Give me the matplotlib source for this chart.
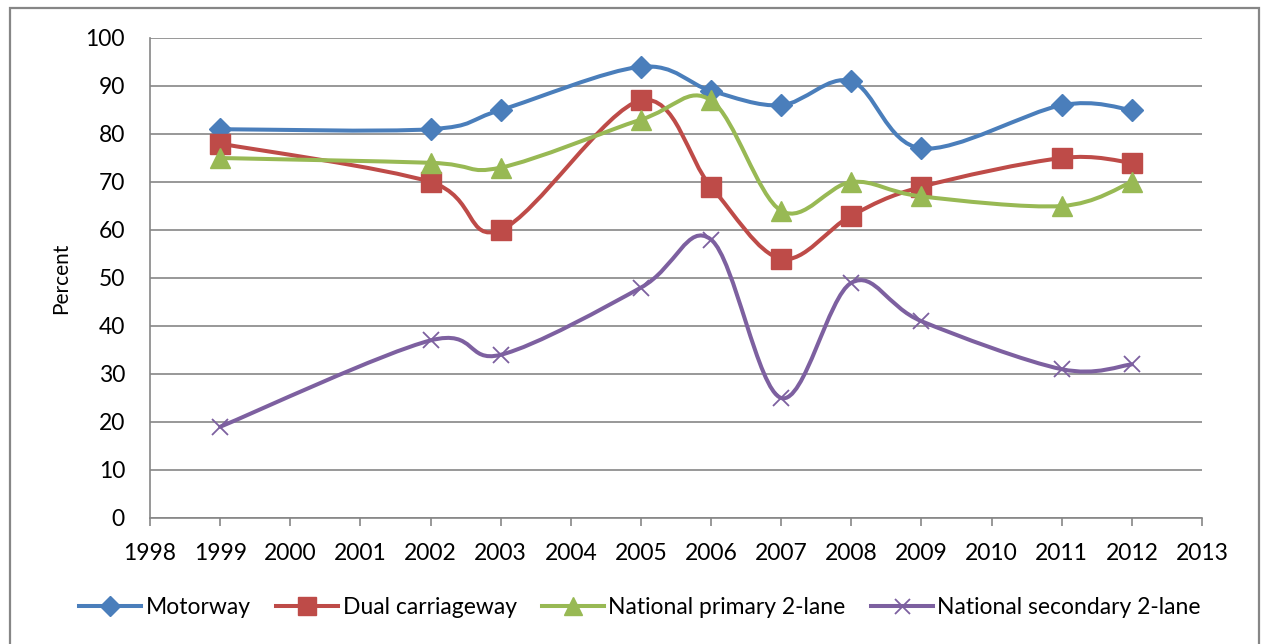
import matplotlib
matplotlib.use("Agg")
import matplotlib.pyplot as plt
from matplotlib.path import Path
from matplotlib.patches import PathPatch, Rectangle
from matplotlib.lines import Line2D

plt.rcParams['font.family'] = ['Lato', 'DejaVu Sans']

years = [1999, 2002, 2003, 2005, 2006, 2007, 2008, 2009, 2011, 2012]
motorway = [81, 81, 85, 94, 89, 86, 91, 77, 86, 85]
dual = [78, 70, 60, 87, 69, 54, 63, 69, 75, 74]
primary = [75, 74, 73, 83, 87, 64, 70, 67, 65, 70]
secondary = [19, 37, 34, 48, 58, 25, 49, 41, 31, 32]

names = ["Motorway", "Dual carriageway", "National primary 2-lane", "National secondary 2-lane"]
colors = ["#4A7EBB", "#BE4B48", "#98B954", "#7D60A0"]
markers = ["D", "s", "^", "x"]
msizes = [11, 14, 14, 12]
x_ticks = list(range(1998, 2014))
y_ticks = list(range(0, 101, 10))


def smooth_path(xs, ys):
    # excel style smoothed line: cubic bezier, control points from neighbours
    n = len(xs)
    verts = [(xs[0], ys[0])]
    codes = [Path.MOVETO]
    for i in range(n - 1):
        i0 = max(i - 1, 0)
        i3 = min(i + 2, n - 1)
        c1 = (xs[i] + (xs[i + 1] - xs[i0]) / 6, ys[i] + (ys[i + 1] - ys[i0]) / 6)
        c2 = (xs[i + 1] - (xs[i3] - xs[i]) / 6, ys[i + 1] - (ys[i3] - ys[i]) / 6)
        verts += [c1, c2, (xs[i + 1], ys[i + 1])]
        codes += [Path.CURVE4] * 3
    return Path(verts, codes)


fig = plt.figure(figsize=(12.63, 6.44), dpi=100)
ax = fig.add_axes([150 / 1263, 1 - 518 / 644, (1202 - 150) / 1263, (518 - 38) / 644])

series = [motorway, dual, primary, secondary]
handles = []
for k, vals in enumerate(series):
    patch = PathPatch(smooth_path(years, vals), facecolor="none", edgecolor=colors[k],
                      lw=2.9, capstyle="round", joinstyle="round", zorder=3 + k)
    ax.add_patch(patch)
    mew = 1.3 if markers[k] == "x" else 1
    ax.plot(years, vals, ls="none", marker=markers[k], ms=msizes[k], color=colors[k],
            mec=colors[k], mew=mew, zorder=3 + k)
    handles.append(Line2D([], [], color=colors[k], lw=2.9, marker=markers[k],
                          ms=msizes[k] * 0.9, mew=mew, mec=colors[k]))

ax.set_xlim(1998, 2013)
ax.set_ylim(0, 100)
ax.set_xticks(x_ticks)
ax.set_yticks(y_ticks)
ax.yaxis.grid(True, color="#868686", lw=1.2)
ax.set_axisbelow(True)
for s in ["top", "right"]:
    ax.spines[s].set_visible(False)
ax.spines["left"].set_color("#868686")
ax.spines["bottom"].set_color("#868686")
ax.spines["left"].set_linewidth(1.2)
ax.spines["bottom"].set_linewidth(1.2)
ax.tick_params(axis="x", direction="out", length=6, width=1.2, color="#868686",
               labelsize=16.5, pad=12)
ax.tick_params(axis="y", length=0, labelsize=16.5, pad=18)

fig.text(61 / 1263, 1 - 278 / 644, "Percent", rotation=90, ha="center", va="center",
         fontsize=15)

fig.legend(handles, names, loc="center", bbox_to_anchor=(640 / 1263, 1 - 608 / 644),
           ncol=4, frameon=False, fontsize=16.5, handlelength=2.7, handletextpad=0.2,
           columnspacing=1.1)

fig.patches.append(Rectangle((10 / 1263, -0.05), (1259 - 10) / 1263, 1.05 - 8 / 644,
                             transform=fig.transFigure, fill=False, ec="#868686",
                             lw=1.6, zorder=0))

fig.savefig("out.png", dpi=100)
